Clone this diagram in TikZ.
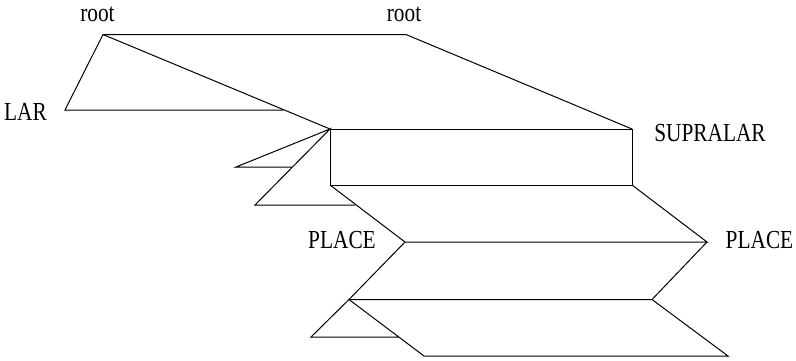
\documentclass[tikz,border=0pt]{standalone}
\usepackage{fontspec}
\setmainfont[FakeStretch=0.82]{Liberation Serif}
\begin{document}
\begin{tikzpicture}[x=1pt,y=-1pt,
  lbl/.style={inner sep=0pt,font=\fontsize{26}{30}\selectfont},
  edge/.style={line width=1pt,line join=miter}]
\useasboundingbox (0,0) rectangle (796,360);
% labels
\node[lbl] (r1l) at (97.5,14.5) {root};
\node[lbl] (r2l) at (404,14.5) {root};
\node[lbl] (larl) at (25.5,112) {LAR};
\node[lbl] (supl) at (710,133) {SUPRALAR};
\node[lbl] (pll) at (342,240) {PLACE};
\node[lbl] (plr) at (759.5,240) {PLACE};
% points
\coordinate (R1) at (103,34.5);
\coordinate (R2) at (406,34.5);
\coordinate (LA) at (65,110);
\coordinate (LAe) at (283,110);
\coordinate (S1) at (330,129);
\coordinate (S2) at (632,129);
\coordinate (S3) at (632,185);
\coordinate (S4) at (330,185);
\coordinate (T1) at (236,167);
\coordinate (T1e) at (292,167);
\coordinate (T2) at (255,205);
\coordinate (T2e) at (355,205);
\coordinate (P1) at (405,242);
\coordinate (P2) at (707,242);
\coordinate (Q1) at (349,299.5);
\coordinate (Q2) at (652,299.5);
\coordinate (U1) at (311,337);
\coordinate (U1e) at (399,337);
\coordinate (B1) at (424,356);
\coordinate (B2) at (728,356);
% lines
\draw[edge] (LAe) -- (LA) -- (R1) -- (R2) -- (S2);
\draw[edge] (R1) -- (S1);
\draw[edge] (S1) -- (S2) -- (S3) -- (S4) -- cycle;
\draw[edge] (T1e) -- (T1) -- (S1) -- (T2) -- (T2e);
\draw[edge] (S4) -- (P1) -- (P2) -- (S3);
\draw[edge] (P1) -- (Q1) -- (Q2) -- (P2);
\draw[edge] (U1e) -- (U1) -- (Q1) -- (B1) -- (B2) -- (Q2);
\end{tikzpicture}
\end{document}
